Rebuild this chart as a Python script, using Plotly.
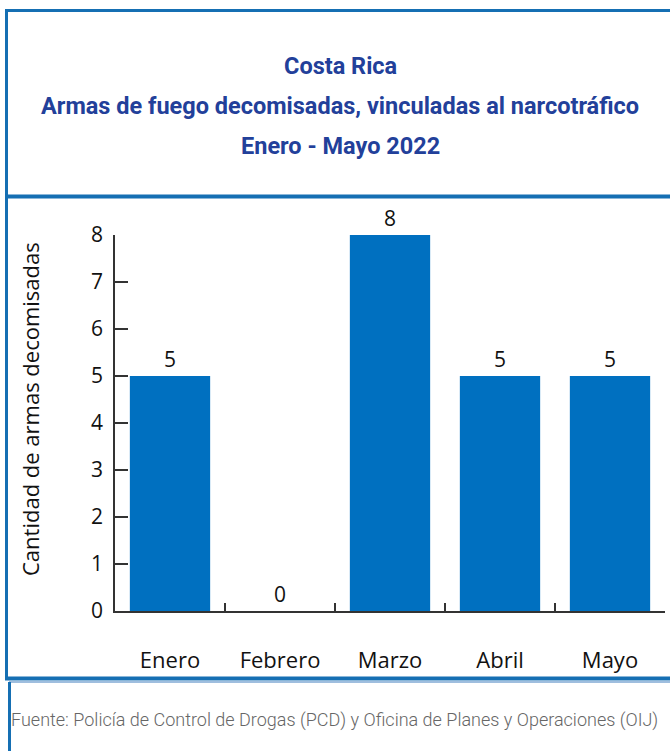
import plotly.graph_objects as go

meses = ["Enero", "Febrero", "Marzo", "Abril", "Mayo"]
armas = [5, 0, 8, 5, 5]
ticks_y = [0, 1, 2, 3, 4, 5, 6, 7, 8]

titulo = ["Costa Rica",
          "Armas de fuego decomisadas, vinculadas al narcotráfico",
          "Enero - Mayo 2022"]
fuente = "Fuente: Policía de Control de Drogas (PCD) y Oficina de Planes y Operaciones (OIJ)"

W, H = 670, 751
L, R, T, B = 115, 5, 235, 140
pw, ph = W - L - R, H - T - B

def px(x):
    return (x - L) / pw

def py(y):
    return (H - B - y) / ph

azul = "#0070c0"
borde = "#156fb3"
titcol = "#22409a"

fig = go.Figure()
fig.add_trace(go.Bar(x=meses, y=armas, marker=dict(color=azul, line=dict(width=0)),
                     width=0.73, text=armas, textposition="outside",
                     textfont=dict(family="Open Sans", size=21, color="#111"),
                     cliponaxis=False))

anots = []
for t, yy in zip(titulo, [66, 106, 146]):
    anots.append(dict(text="<b>" + t + "</b>", x=px(340), y=py(yy), xref="paper", yref="paper",
                      xanchor="center", yanchor="middle", showarrow=False,
                      font=dict(family="Roboto", size=23.5, color=titcol)))
anots.append(dict(text="Cantidad de armas decomisadas", textangle=-90, x=px(30), y=py(409),
                  xref="paper", yref="paper", xanchor="center", yanchor="middle", showarrow=False,
                  font=dict(family="Open Sans", size=22, color="#111")))
anots.append(dict(text=fuente, x=px(9), y=py(720), xref="paper", yref="paper",
                  xanchor="left", yanchor="middle", showarrow=False,
                  font=dict(family="Roboto", size=18, color="#666", weight=300)))

def linea(x0, y0, x1, y1, w, c=borde):
    return dict(type="line", xref="paper", yref="paper", x0=px(x0), x1=px(x1),
                y0=py(y0), y1=py(y1), line=dict(color=c, width=w))

shapes = [
    linea(6.5, 9, 6.5, 680, 3),
    linea(5, 10.5, 680, 10.5, 3),
    linea(5, 196.5, 680, 196.5, 4),
    linea(5, 678.5, 680, 678.5, 4),
    linea(9, 682, 680, 682, 1.5, "#7fa9d3"),
    linea(9.5, 682, 9.5, 760, 3),
]

fig.update_layout(
    width=W, height=H, margin=dict(l=L, r=R, t=T, b=B),
    paper_bgcolor="white", plot_bgcolor="white", showlegend=False,
    annotations=anots, shapes=shapes, bargap=0.27,
    xaxis=dict(showline=True, linecolor="#333", linewidth=1.5, ticks="inside", tickson="boundaries",
               ticklen=8, tickcolor="#333", tickwidth=1.5, showgrid=False, range=[-0.5, 4.5],
               tickfont=dict(family="Open Sans", size=22, color="#111"), ticklabelstandoff=29),
    yaxis=dict(showline=True, linecolor="#333", linewidth=1.5, ticks="inside", ticklen=13,
               tickcolor="#333", tickwidth=1.5, showgrid=False, zeroline=False, range=[0, 8],
               tickvals=ticks_y, tickfont=dict(family="Open Sans", size=21, color="#111"),
               ticklabelstandoff=6),
)

fig.write_html("out.html", config={"displayModeBar": False},
               post_script="document.body.style.margin='0';")
